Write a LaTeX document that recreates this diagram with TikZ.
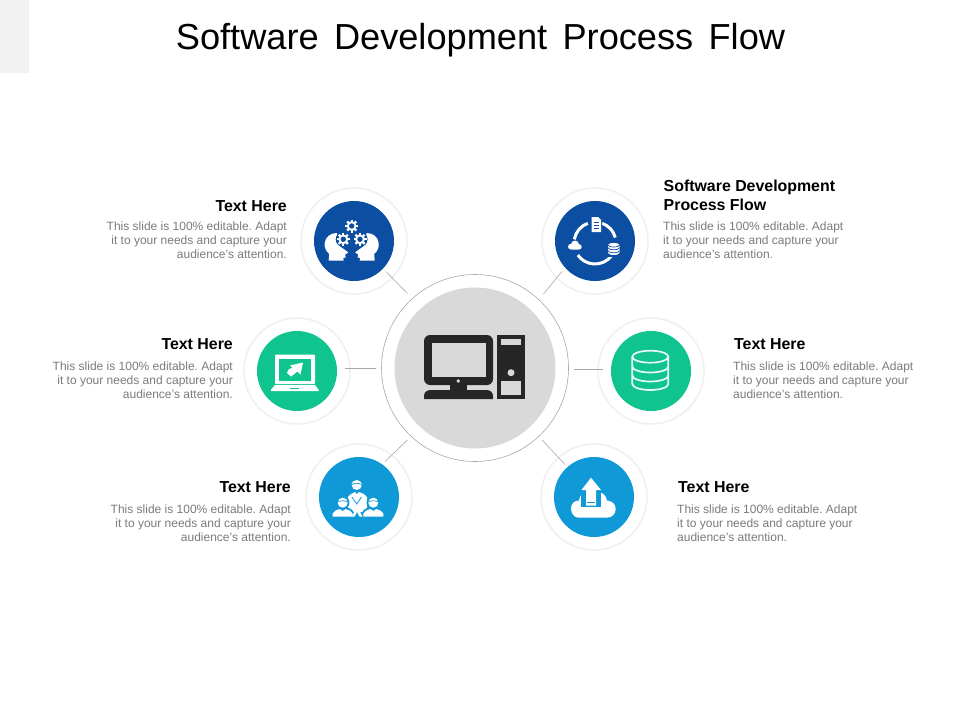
\documentclass[tikz,border=0pt]{standalone}
\usepackage{fontspec}
\setmainfont{Liberation Sans}
\frenchspacing
\definecolor{navy}{HTML}{0B4EA2}
\definecolor{mint}{HTML}{0FC48E}
\definecolor{sky}{HTML}{0F9AD7}
\definecolor{hubgrey}{HTML}{D9D9D9}
\definecolor{ink}{HTML}{262626}
\definecolor{bodygrey}{HTML}{7B7B7B}
\definecolor{ringgrey}{HTML}{F0F0F0}
\definecolor{linegrey}{HTML}{A8A8A8}
\tikzset{
  ringnode/.style={circle,draw=ringgrey,line width=1.6pt,fill=white,minimum size=106pt,inner sep=0pt},
  discnode/.style={circle,fill=#1,minimum size=80pt,inner sep=0pt},
  conn/.style={draw=linegrey,line width=0.6pt},
  headnode/.style={inner sep=0pt,font=\bfseries\fontsize{15.9}{19}\selectfont,text=black},
  bodynode/.style={inner sep=0pt,font=\fontsize{12}{14}\selectfont,text=bodygrey},
}
\newcommand{\gearmark}[3]{% x, y, bg
  \fill[#3] (#1,#2) circle (7.6);
  \foreach \a in {0,45,...,315}{\draw[white,line width=2.2pt] (#1,#2) ++(\a:3.6) -- ++(\a:2.9);}
  \fill[white] (#1,#2) circle (4.9);
  \fill[#3] (#1,#2) circle (2.7);
}
\newcommand{\cloudmark}[3]{% x,y,scale
  \begin{scope}[shift={(#1,#2)},scale=#3]
    \fill[white] (-7,2) circle (5) (7,2.4) circle (4.6) (0,-1.5) circle (7);
    \fill[white,rounded corners=1pt] (-7,1) rectangle (7,7);
  \end{scope}
}
\begin{document}
\begin{tikzpicture}[x=1pt,y=-1pt]
\useasboundingbox (0,0) rectangle (960,720);
\fill[white] (0,0) rectangle (960,720);
\fill[black!5] (0,0) rectangle (29,73);

\node[inner sep=0pt,font=\fontsize{36.2}{40}\selectfont,text=black] (title) at (480.5,40) {\spaceskip=15.3pt Software Development Process Flow};

% hub
\node[circle,draw=linegrey,line width=0.6pt,fill=white,minimum size=187pt,inner sep=0pt] (hub) at (475,368) {};
\node[circle,fill=hubgrey,minimum size=161pt,inner sep=0pt] (hubdisc) at (475,368) {};

% satellites
\node[ringnode] (tl) at (354,241) {};
\node[ringnode] (tr) at (595,241) {};
\node[ringnode] (ml) at (297,371) {};
\node[ringnode] (mr) at (651,371) {};
\node[ringnode] (bl) at (359,497) {};
\node[ringnode] (br) at (594,497) {};
\node[discnode=navy] (tldisc) at (354,241) {};
\node[discnode=navy] (trdisc) at (595,241) {};
\node[discnode=mint] (mldisc) at (297,371) {};
\node[discnode=mint] (mrdisc) at (651,371) {};
\node[discnode=sky] (bldisc) at (359,497) {};
\node[discnode=sky] (brdisc) at (594,497) {};

% connectors
\draw[conn,shorten <=7pt,shorten >=-9pt] (hub.132.6) -- (tl.316);
\draw[conn,shorten <=7pt,shorten >=-9pt] (hub.47.4) -- (tr.224);
\draw[conn,shorten <=5pt,shorten >=-10pt] (hub.227) -- (bl.52);
\draw[conn,shorten <=5pt,shorten >=-10pt] (hub.313.4) -- (br.132.4);
\draw[conn,shorten <=5pt,shorten >=-6pt] (hub.west) -- (hub.west -| ml.east);
\draw[conn,shorten <=5pt,shorten >=-6pt] ([yshift=-1pt]hub.east) -- ([yshift=-1pt]hub.east -| mr.west);

% computer icon
\fill[ink,rounded corners=6pt] (424,335) rectangle (493,385);
\fill[hubgrey] (432,343) rectangle (486,377);
\fill[ink] (450,384) rectangle (467,391);
\fill[hubgrey] (458.3,381) circle (1.9);
\fill[ink] (424,399) -- (424,396) .. controls (424,392) and (427,390) .. (431,390) -- (486,390) .. controls (490,390) and (493,392) .. (493,396) -- (493,399) -- cycle;
\fill[ink] (497,335) rectangle (525,399);
\fill[hubgrey] (501,338.5) rectangle (521,345);
\fill[hubgrey] (511,372.7) circle (3.5);
\fill[hubgrey] (501,381) rectangle (521,395);

% heads and gears
\foreach \s in {1,-1}{
\begin{scope}[shift={(351.7,0)},x={(\s*1pt,0pt)}]
\fill[white] (-23,260.5) -- (-22.5,254) .. controls (-26,251) and (-27.5,247) .. (-27,243) .. controls (-26.5,237) and (-21,233) .. (-15,233) -- (-12,246) .. controls (-10,248) and (-6,250) .. (-3.5,252.5) -- (-6.5,254.5) -- (-6,257.5) -- (-8.5,258) -- (-8,260.5) -- cycle;
\end{scope}}
\gearmark{351.7}{226}{navy}
\gearmark{343.3}{239.3}{navy}
\gearmark{360}{239.3}{navy}

% cycle icon
\draw[white,line width=3pt] (595,243) ++(35:21) arc[start angle=35,end angle=145,radius=21];
\draw[white,line width=3pt] (595,243) ++(190:21) arc[start angle=190,end angle=250,radius=21];
\draw[white,line width=3pt] (595,243) ++(-70:21) arc[start angle=-70,end angle=-15,radius=21];
\fill[navy] (590,215.5) rectangle (602,233.5);
\fill[white] (591.7,217) -- (598,217) -- (601,220) -- (601,232) -- (591.7,232) -- cycle;
\draw[navy,line width=0.9pt] (593.5,222) -- (599,222) (593.5,225) -- (599,225) (593.5,228) -- (599,228);
\fill[navy] (570,240) rectangle (583,252);
\cloudmark{575}{245.5}{0.58}
\fill[navy] (606,241) rectangle (621,257);
\fill[white] (608,245) arc[start angle=180,end angle=360,x radius=5.8,y radius=2] -- (619.6,252.5) arc[start angle=0,end angle=180,x radius=5.8,y radius=2.5] -- cycle;
\draw[navy,line width=0.7pt] (608,247.7) arc[start angle=180,end angle=0,x radius=5.8,y radius=2];
\draw[navy,line width=0.7pt] (608,250.7) arc[start angle=180,end angle=0,x radius=5.8,y radius=2];
\draw[navy,line width=0.7pt] (608,245) arc[start angle=180,end angle=0,x radius=5.8,y radius=2];

% laptop icon
\fill[white,rounded corners=1pt] (275,354.5) rectangle (315,384);
\fill[mint] (279.3,358.5) rectangle (311,380.5);
\fill[white] (275,385) -- (315,385) -- (318.5,389.5) -- (318.5,391) -- (271,391) -- (271,389.5) -- cycle;
\fill[mint] (290,388.2) rectangle (299,389.4);
\fill[white] (303,362.5) -- (300.5,374.5) -- (297.5,371.5) -- (291,376.5) -- (287,373) -- (288.5,369.5) -- (292.5,367.5) -- (290,365.5) -- cycle;

% database icon
\begin{scope}[draw=white!90!mint,line width=1.7pt]
\draw (650.3,356.7) ellipse [x radius=18,y radius=6];
\draw (632.3,356.7) -- (632.3,384) arc[start angle=180,end angle=0,x radius=18,y radius=6] -- (668.3,356.7);
\draw (632.3,366.5) arc[start angle=180,end angle=0,x radius=18,y radius=6];
\draw (632.3,375.5) arc[start angle=180,end angle=0,x radius=18,y radius=6];
\end{scope}

% people icon
\fill[white] (348,512) -- (348,497) .. controls (350,494) and (353,493) .. (355,492) -- (357,494) -- (359,492) .. controls (362,493) and (365,494) .. (367,497) -- (367,512) -- cycle;
\fill[white] (356.7,485) circle (5);
\fill[white] (351.5,484) .. controls (352,480) and (361,480) .. (362,484) -- cycle;
\draw[sky,line width=0.7pt] (351.8,484.6) .. controls (354,482.8) and (359,482.8) .. (361.6,484.6);
\foreach \px in {342.7,373.3}{
  \fill[sky] (\px,502.7) circle (6.8);
  \fill[sky] (\px-11.5,518) -- (\px-11.5,513) .. controls (\px-9,508) and (\px-6,507.5) .. (\px,507.5) .. controls (\px+6,507.5) and (\px+9,508) .. (\px+11.5,513) -- (\px+11.5,518) -- cycle;
}
\foreach \px in {342.7,373.3}{
  \fill[white] (\px,502.7) circle (5);
  \draw[sky,line width=0.7pt] (\px-4.8,502) .. controls (\px-2,500.3) and (\px+2,500.3) .. (\px+4.8,502);
  \fill[white] (\px-10,516.7) -- (\px-10,513.5) .. controls (\px-9,511) and (\px-6,510) .. (\px-3,509) -- (\px,511) -- (\px+3,509) .. controls (\px+6,510) and (\px+9,511) .. (\px+10,513.5) -- (\px+10,516.7) -- cycle;
}
\fill[white] (352,516.7) -- (357,506) -- (362.5,516.7) -- (359.5,516.7) -- (357,512) -- (354.5,516.7) -- cycle;
\draw[sky,line width=0.8pt] (352,497) -- (356.7,504) -- (361.5,497);

% cloud upload icon
\fill[white] (579,517.7) .. controls (572,517.7) and (571,510) .. (571,508.5) .. controls (571,503) and (575,500.5) .. (579,500.5) .. controls (579,494) and (585,491) .. (593,491) .. controls (602,491) and (606,495) .. (607,500.5) .. controls (612,501) and (615.7,504) .. (615.7,509) .. controls (615.7,514) and (612,517.7) .. (607,517.7) -- cycle;
\fill[sky] (581,490) rectangle (601,507);
\fill[white] (591,477.7) -- (601,490) -- (596,490) -- (596,505.5) -- (586,505.5) -- (586,490) -- (581.5,490) -- cycle;
\fill[sky] (587,502) rectangle (595,503.3);

% labels
\node[headnode,anchor=east] (h1) at (287,206) {Text Here};
\node[bodynode,anchor=north east,align=right] (b1) at (287,222) {This slide is 100\% editable. Adapt\\it to your needs and capture your\\audience's attention.};
\node[headnode,anchor=east] (h2) at (233,344) {Text Here};
\node[bodynode,anchor=north east,align=right] (b2) at (233,362) {This slide is 100\% editable. Adapt\\it to your needs and capture your\\audience's attention.};
\node[headnode,anchor=east] (h3) at (291,487) {Text Here};
\node[bodynode,anchor=north east,align=right] (b3) at (291,505) {This slide is 100\% editable. Adapt\\it to your needs and capture your\\audience's attention.};
\node[headnode,anchor=north west,align=left] (h4) at (663.5,179.5) {Software Development\\Process Flow};
\node[bodynode,anchor=north west,align=left] (b4) at (663,222) {This slide is 100\% editable. Adapt\\it to your needs and capture your\\audience's attention.};
\node[headnode,anchor=west] (h5) at (734,344) {Text Here};
\node[bodynode,anchor=north west,align=left] (b5) at (733,362) {This slide is 100\% editable. Adapt\\it to your needs and capture your\\audience's attention.};
\node[headnode,anchor=west] (h6) at (678,487) {Text Here};
\node[bodynode,anchor=north west,align=left] (b6) at (677,505) {This slide is 100\% editable. Adapt\\it to your needs and capture your\\audience's attention.};
\end{tikzpicture}
\end{document}
